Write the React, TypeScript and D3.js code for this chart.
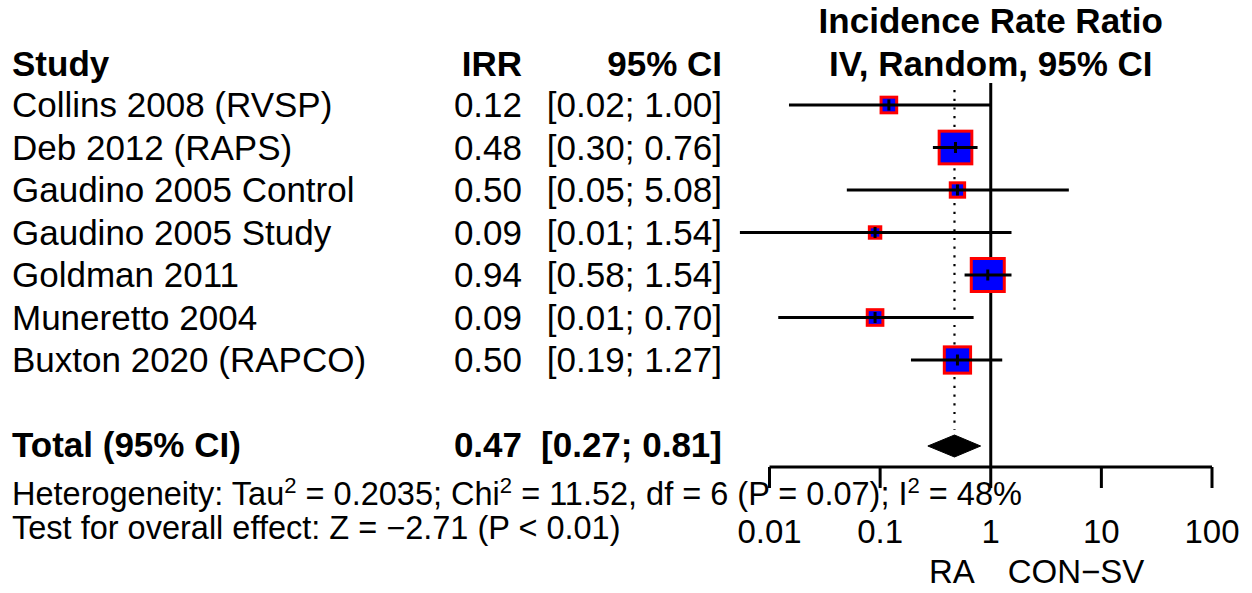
import React from "react";
import * as d3 from "d3";

const studies = [
  "Collins 2008 (RVSP)",
  "Deb 2012 (RAPS)",
  "Gaudino 2005 Control",
  "Gaudino 2005 Study",
  "Goldman 2011",
  "Muneretto 2004",
  "Buxton 2020 (RAPCO)",
];
const irr = [0.12, 0.48, 0.5, 0.09, 0.94, 0.09, 0.5];
const ciLower = [0.015, 0.3, 0.05, 0.0054, 0.58, 0.012, 0.19];
const ciUpper = [1.0, 0.76, 5.08, 1.54, 1.54, 0.7, 1.27];
const weights = [7.5, 27.5, 6.5, 4.5, 28, 7.5, 18.5];
const irrLabels = ["0.12", "0.48", "0.50", "0.09", "0.94", "0.09", "0.50"];
const ciLabels = [
  "[0.02; 1.00]",
  "[0.30; 0.76]",
  "[0.05; 5.08]",
  "[0.01; 1.54]",
  "[0.58; 1.54]",
  "[0.01; 0.70]",
  "[0.19; 1.27]",
];
const pooled = 0.47;
const pooledLower = 0.27;
const pooledUpper = 0.81;
const pooledLabel = "0.47";
const pooledCiLabel = "[0.27; 0.81]";
const tickValues = [0.01, 0.1, 1, 10, 100];
const tickLabels = ["0.01", "0.1", "1", "10", "100"];

const FONT = "'Liberation Sans', Arial, Helvetica, sans-serif";

export default function App() {
  const W = 1252;
  const H = 593;
  const x = d3.scaleLog().domain([0.01, 100]).range([769.5, 1212]);
  const y = d3.scaleLinear().domain([0, 6]).range([105, 360]);
  const size = d3.scaleSqrt().domain([0, 28]).range([0, 36]);
  const totalY = 446;
  const axisY = 467;
  const rowFs = 35;
  const hetFs = 32.5;
  const supFs = hetFs * 0.68;
  const bw = 3;

  const diamond = [
    [x(pooledLower), totalY],
    [x(pooled), totalY - 11],
    [x(pooledUpper), totalY],
    [x(pooled), totalY + 11],
  ]
    .map((p) => p.join(","))
    .join(" ");

  return (
    <svg
      width={W}
      height={H}
      style={{ position: "absolute", left: 0, top: 0, background: "#fff" }}
      fontFamily={FONT}
    >
      <rect x={0} y={0} width={W} height={H} fill="#fff" />
      {/* Headers */}
      <text x={x(1)} y={33} textAnchor="middle" fontWeight="bold" fontSize={rowFs}>
        Incidence Rate Ratio
      </text>
      <text x={x(1)} y={76} textAnchor="middle" fontWeight="bold" fontSize={rowFs}>
        IV, Random, 95% CI
      </text>
      <text x={12} y={76} fontWeight="bold" fontSize={rowFs}>
        Study
      </text>
      <text x={522} y={76} textAnchor="end" fontWeight="bold" fontSize={rowFs}>
        IRR
      </text>
      <text x={722} y={76} textAnchor="end" fontWeight="bold" fontSize={rowFs}>
        95% CI
      </text>

      {/* Study rows text */}
      {studies.map((s, i) => (
        <g key={s} fontSize={rowFs}>
          <text x={12} y={y(i) + 12}>{s}</text>
          <text x={522} y={y(i) + 12} textAnchor="end">{irrLabels[i]}</text>
          <text x={722} y={y(i) + 12} textAnchor="end">{ciLabels[i]}</text>
        </g>
      ))}

      {/* Total row */}
      <text x={12} y={totalY + 11} fontWeight="bold" fontSize={rowFs}>
        Total (95% CI)
      </text>
      <text x={522} y={totalY + 11} textAnchor="end" fontWeight="bold" fontSize={rowFs}>
        {pooledLabel}
      </text>
      <text x={722} y={totalY + 11} textAnchor="end" fontWeight="bold" fontSize={rowFs}>
        {pooledCiLabel}
      </text>

      {/* Heterogeneity */}
      <text x={12} y={505} fontSize={hetFs}>
        <tspan>Heterogeneity: Tau</tspan>
        <tspan dy={-12} fontSize={supFs}>2</tspan>
        <tspan dy={12}> = 0.2035; Chi</tspan>
        <tspan dy={-12} fontSize={supFs}>2</tspan>
        <tspan dy={12}> = 11.52, df = 6 (P = 0.07); I</tspan>
        <tspan dy={-12} fontSize={supFs}>2</tspan>
        <tspan dy={12}> = 48%</tspan>
      </text>
      <text x={12} y={539} fontSize={hetFs}>
        Test for overall effect: Z = −2.71 (P &lt; 0.01)
      </text>

      {/* Null line */}
      <line x1={x(1)} x2={x(1)} y1={83} y2={axisY} stroke="#000" strokeWidth={3} />
      {/* Pooled dotted line */}
      <line
        x1={x(pooled)}
        x2={x(pooled)}
        y1={90}
        y2={430}
        stroke="#000"
        strokeWidth={2.2}
        strokeDasharray="2.2 6.5"
      />

      {/* Study markers */}
      {studies.map((s, i) => {
        const sz = size(weights[i]);
        const cx = x(irr[i]);
        const cy = y(i);
        return (
          <g key={"m" + s}>
            <rect
              x={cx - sz / 2 + bw / 2}
              y={cy - sz / 2 + bw / 2}
              width={sz - bw}
              height={sz - bw}
              fill="#0000FF"
              stroke="#FF0000"
              strokeWidth={bw}
            />
            <line
              x1={x(ciLower[i])}
              x2={x(ciUpper[i])}
              y1={cy}
              y2={cy}
              stroke="#000"
              strokeWidth={2.8}
            />
            <line x1={cx} x2={cx} y1={cy - 5.5} y2={cy + 5.5} stroke="#000" strokeWidth={3} />
          </g>
        );
      })}

      {/* Diamond */}
      <polygon points={diamond} fill="#000" stroke="#000" strokeWidth={1} />

      {/* Axis */}
      <line x1={x(0.01)} x2={x(100)} y1={axisY} y2={axisY} stroke="#000" strokeWidth={3} />
      {tickValues.map((t, i) => (
        <g key={"t" + t}>
          <line x1={x(t)} x2={x(t)} y1={axisY} y2={488} stroke="#000" strokeWidth={3} />
          <text x={x(t)} y={543} textAnchor="middle" fontSize={33}>
            {tickLabels[i]}
          </text>
        </g>
      ))}
      <text x={x(1) - 16} y={583} textAnchor="end" fontSize={33}>
        RA
      </text>
      <text x={x(1) + 17} y={583} textAnchor="start" fontSize={33}>
        CON−SV
      </text>
    </svg>
  );
}
